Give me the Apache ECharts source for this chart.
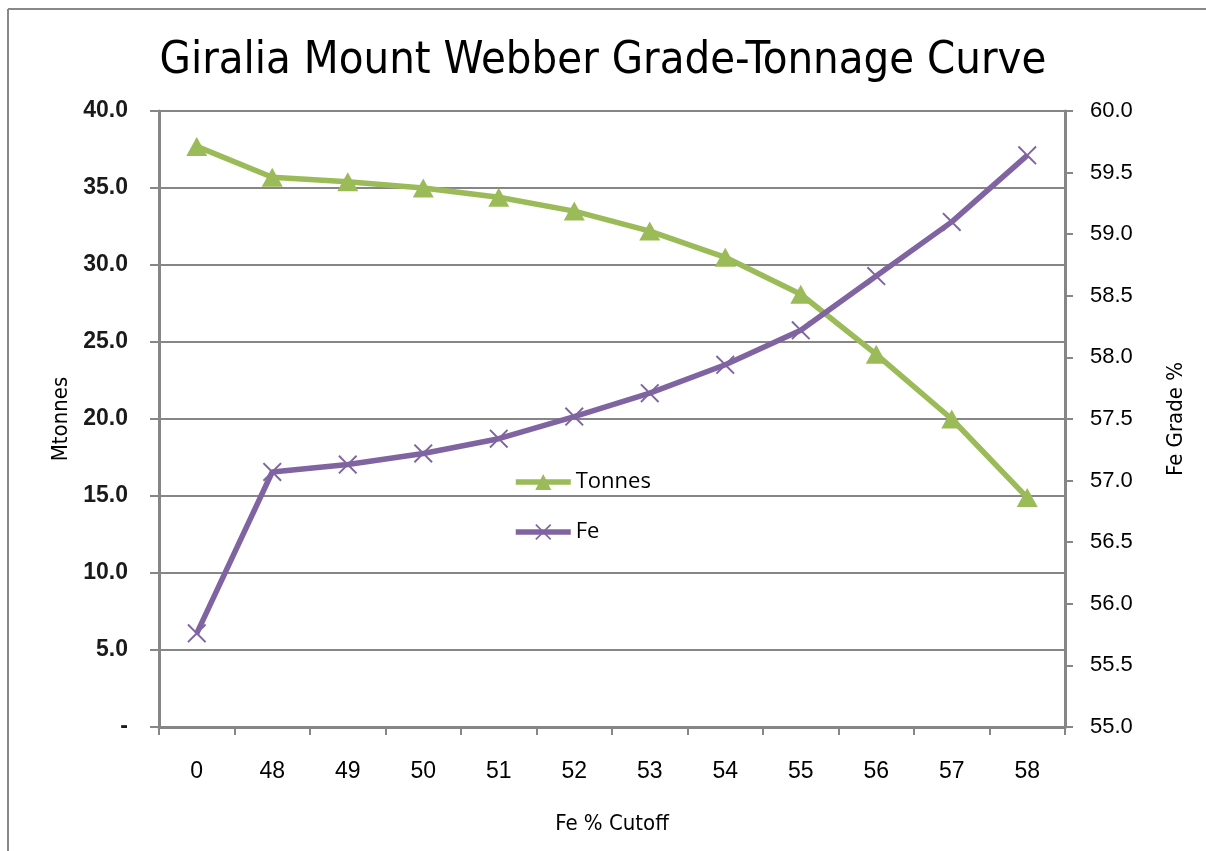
<!DOCTYPE html>
<html>
<head>
<meta charset="utf-8">
<script src="https://cdn.jsdelivr.net/npm/echarts@6/dist/echarts.min.js"></script>
<style>
html,body{margin:0;padding:0;background:#fff;}
#chart{width:1206px;height:851px;}
</style>
</head>
<body>
<div id="chart"></div>
<script>
var titleText = 'Giralia Mount Webber Grade-Tonnage Curve';
var categories = ['0','48','49','50','51','52','53','54','55','56','57','58'];
var tonnes = [37.7, 35.7, 35.4, 35.0, 34.4, 33.5, 32.2, 30.5, 28.1, 24.2, 20.0, 14.9];
var feGrade = [55.76, 57.07, 57.13, 57.22, 57.34, 57.52, 57.71, 57.94, 58.22, 58.66, 59.10, 59.64];
var leftAxisName = 'Mtonnes';
var rightAxisName = 'Fe Grade %';
var xAxisName = 'Fe % Cutoff';

var narrow = '"Liberation Sans Narrow", "Arial Narrow", "DejaVu Sans Condensed", sans-serif';
var axisGray = '#868686';
var xSymbol = 'path://M0,1.3 L1.3,0 L9,7.7 L16.7,0 L18,1.3 L10.3,9 L18,16.7 L16.7,18 L9,10.3 L1.3,18 L0,16.7 L7.7,9 Z';

var chart = echarts.init(document.getElementById('chart'), null, {renderer: 'canvas'});
chart.setOption({
  backgroundColor: '#fff',
  animation: false,
  graphic: [
    {type: 'line', shape: {x1: 8, y1: 9, x2: 1206, y2: 9}, style: {stroke: '#888', lineWidth: 2}},
    {type: 'line', shape: {x1: 8, y1: 9, x2: 8, y2: 851}, style: {stroke: '#888', lineWidth: 2}}
  ],
  title: {
    text: titleText,
    left: 'center',
    top: 34,
    textStyle: {fontFamily: narrow, fontSize: 45, fontWeight: 'normal', color: '#000'}
  },
  legend: {
    orient: 'vertical',
    left: 513,
    top: 471,
    padding: 0,
    itemWidth: 55,
    itemHeight: 20,
    itemGap: 28,
    lineStyle: {width: 5.5},
    textStyle: {fontFamily: '"Open Sans", sans-serif', fontSize: 22, color: '#000'},
    data: ['Tonnes', 'Fe']
  },
  grid: {left: 159, right: 141, top: 111, bottom: 124, containLabel: false},
  xAxis: {
    type: 'category',
    data: categories,
    boundaryGap: true,
    name: xAxisName,
    nameLocation: 'middle',
    nameGap: 86,
    nameTextStyle: {fontFamily: narrow, fontSize: 22, color: '#000'},
    axisLine: {lineStyle: {color: axisGray, width: 3}},
    axisTick: {show: true, length: 8, lineStyle: {color: axisGray, width: 2}, alignWithLabel: false},
    axisLabel: {margin: 33, fontFamily: '"Liberation Sans", Arial, sans-serif', fontSize: 23, color: '#000'},
    splitLine: {show: false}
  },
  yAxis: [
    {
      type: 'value',
      min: 0, max: 40, interval: 5,
      position: 'left',
      name: leftAxisName,
      nameLocation: 'middle',
      nameGap: 86,
      nameRotate: 90,
      nameTextStyle: {fontFamily: narrow, fontSize: 22, color: '#000'},
      axisLine: {show: true, lineStyle: {color: axisGray, width: 3}},
      axisTick: {show: true, length: 9, lineStyle: {color: axisGray, width: 2}},
      axisLabel: {
        margin: 31,
        fontFamily: '"Liberation Sans", Arial, sans-serif', fontSize: 23, fontWeight: 'bold', color: '#1a1a1a',
        formatter: function (v) { return v === 0 ? '-' : v.toFixed(1); }
      },
      splitLine: {show: true, lineStyle: {color: axisGray, width: 2}}
    },
    {
      type: 'value',
      min: 55, max: 60, interval: 0.5,
      position: 'right',
      name: rightAxisName,
      nameLocation: 'middle',
      nameGap: 100,
      nameRotate: 90,
      nameTextStyle: {fontFamily: narrow, fontSize: 22, color: '#000'},
      axisLine: {show: true, lineStyle: {color: axisGray, width: 3}},
      axisTick: {show: true, length: 8, lineStyle: {color: axisGray, width: 2}},
      axisLabel: {
        margin: 25,
        fontFamily: '"Liberation Sans", Arial, sans-serif', fontSize: 22, color: '#000',
        formatter: function (v) { return v.toFixed(1); }
      },
      splitLine: {show: false}
    }
  ],
  series: [
    {
      name: 'Tonnes',
      type: 'line',
      yAxisIndex: 0,
      data: tonnes,
      symbol: 'triangle',
      symbolSize: [21, 19],
      lineStyle: {color: '#9BBB59', width: 5.5},
      itemStyle: {color: '#9BBB59'},
      z: 3
    },
    {
      name: 'Fe',
      type: 'line',
      yAxisIndex: 1,
      data: feGrade,
      symbol: xSymbol,
      symbolSize: 19,
      lineStyle: {color: '#8064A2', width: 5.5},
      itemStyle: {color: '#8064A2'},
      z: 4
    }
  ]
});
</script>
</body>
</html>
